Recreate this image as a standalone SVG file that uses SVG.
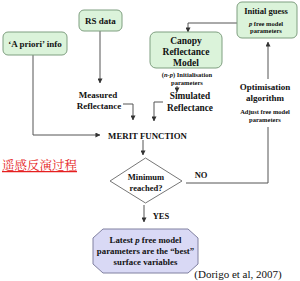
<svg xmlns="http://www.w3.org/2000/svg" width="300" height="281" viewBox="0 0 300 281">
<style>
.box{fill:#dbf3da;stroke:#7f9f80;stroke-width:1}
.t{font-family:'Liberation Serif','Tinos','Noto Serif','DejaVu Serif',serif;font-weight:bold;fill:#111;text-anchor:middle}
.c{fill:none;stroke:#555;stroke-width:1}
</style>
<defs>
<marker id="ah" viewBox="0 0 6 6" refX="5.5" refY="3" markerWidth="5" markerHeight="5" orient="auto" markerUnits="userSpaceOnUse">
<path d="M0,0 L6,3 L0,6 z" fill="#333"/>
</marker>
</defs>
<rect width="300" height="281" fill="#fff"/>
<g id="connectors">
<path class="c" d="M100,31 V83" marker-end="url(#ah)"/>
<path class="c" d="M123,104 H133 V120" marker-end="url(#ah)"/>
<path class="c" d="M33,55 V135 H100" marker-end="url(#ah)"/>
<path class="c" d="M163,102 H154 V121" marker-end="url(#ah)"/>
<path class="c" d="M177,86 V92" marker-end="url(#ah)"/>
<path class="c" d="M237,23 H188 V32" marker-end="url(#ah)"/>
<path class="c" d="M143,140 V155" marker-end="url(#ah)"/>
<path class="c" d="M144,205 V222" marker-end="url(#ah)"/>
<path class="c" d="M186,183 H268 V127"/>
<path class="c" d="M268,79 V42" marker-end="url(#ah)"/>
</g>
<g id="apriori">
<rect class="box" x="3" y="32" width="64" height="23" rx="5"/>
<text class="t" x="35" y="47" font-size="9">‘A priori’ info</text>
</g>
<g id="rsdata">
<rect class="box" x="79" y="10" width="43" height="21" rx="5"/>
<text class="t" x="100.5" y="24" font-size="9">RS data</text>
</g>
<g id="canopy">
<rect class="box" x="150" y="32" width="72" height="36" rx="6"/>
<text class="t" x="186" y="44" font-size="9.5">Canopy</text>
<text class="t" x="186" y="55" font-size="9.5">Reflectance</text>
<text class="t" x="186" y="66" font-size="9.5">Model</text>
</g>
<g id="initial">
<rect class="box" x="237" y="2" width="60" height="36" rx="5"/>
<text class="t" x="266" y="14" font-size="8.5">Initial guess</text>
<text class="t" x="266" y="26" font-size="6.5"><tspan font-style="italic">p</tspan> free model</text>
<text class="t" x="266" y="33" font-size="6.5">parameters</text>
</g>
<g id="measured">
<text class="t" x="98" y="98" font-size="9">Measured</text>
<text class="t" x="99" y="109" font-size="9">Reflectance</text>
</g>
<g id="init-params">
<text class="t" x="187" y="77" font-size="6.5">(<tspan font-style="italic">n-p</tspan>) Initialisation</text>
<text class="t" x="187" y="85" font-size="6.5">parameters</text>
</g>
<g id="simulated">
<text class="t" x="190" y="99" font-size="9.3">Simulated</text>
<text class="t" x="190" y="111" font-size="9.3">Reflectance</text>
</g>
<g id="optim">
<text class="t" x="265" y="90" font-size="9">Optimisation</text>
<text class="t" x="265" y="101" font-size="9">algorithm</text>
<text class="t" x="265" y="114" font-size="6.5">Adjust free model</text>
<text class="t" x="265" y="122" font-size="6.5">parameters</text>
</g>
<g id="merit">
<text class="t" x="147.5" y="139" font-size="8.8">MERIT FUNCTION</text>
</g>
<g id="minimum">
<polygon points="110,181 145.5,158 182,181 145.5,203" fill="#fff" stroke="#777" stroke-width="1"/>
<text class="t" x="146" y="180" font-size="8.5">Minimum</text>
<text class="t" x="146" y="191" font-size="8.5">reached?</text>
</g>
<g id="labels">
<text class="t" x="201" y="178" font-size="8.5">NO</text>
<text class="t" x="161" y="219" font-size="8.5">YES</text>
</g>
<g id="latest">
<polygon points="103,229 188,229 198,238 198,264 188,273 103,273 93,264 93,238" fill="#d9d9f5" stroke="#8080a0" stroke-width="1"/>
<text class="t" x="145.5" y="243" font-size="8.8">Latest <tspan font-style="italic">p</tspan> free model</text>
<text class="t" x="145.5" y="254" font-size="8.8">parameters are the “best”</text>
<text class="t" x="145.5" y="265" font-size="8.8">surface variables</text>
</g>
<text x="2" y="170" font-family="'Noto Serif CJK SC','Noto Sans CJK SC',sans-serif" font-size="12.5" fill="#e52020" text-decoration="underline">遥感反演过程</text>
<text x="238" y="278" font-family="'Liberation Serif','Tinos',serif" font-size="11" fill="#111" text-anchor="middle">(Dorigo et al, 2007)</text>
</svg>
